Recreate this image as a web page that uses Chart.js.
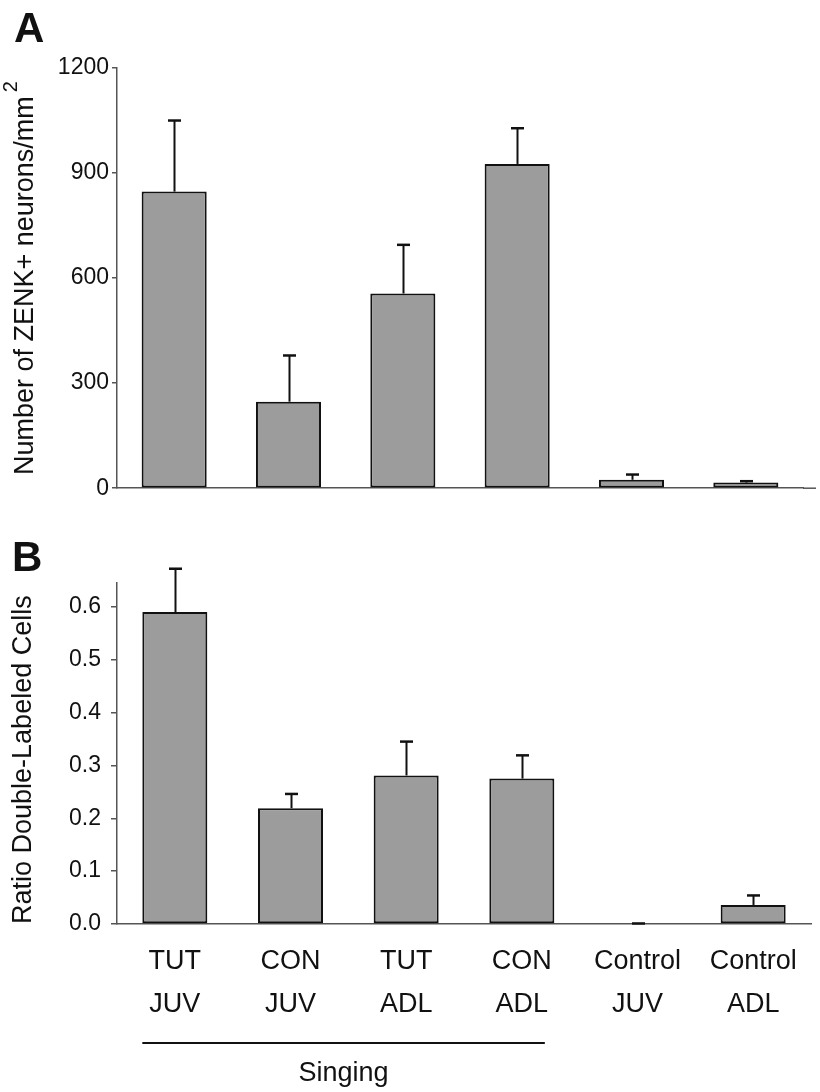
<!DOCTYPE html>
<html><head><meta charset="utf-8">
<script src="https://cdn.jsdelivr.net/npm/chart.js@4.4.1/dist/chart.umd.min.js"></script>
<style>
html,body{margin:0;padding:0;background:#fff;}
#wrap{position:relative;width:820px;height:1092px;overflow:hidden;}
#cA{position:absolute;left:0;top:0;}
#cB{position:absolute;left:0;top:520px;}
.pl{position:absolute;font:bold 42px "Liberation Sans",Arial,sans-serif;line-height:1;color:#111;}
</style></head><body>
<div id="wrap">
<canvas id="cA" width="820" height="505"></canvas>
<canvas id="cB" width="820" height="572"></canvas>
<div class="pl" style="left:14px;top:7px">A</div>
<div class="pl" style="left:12px;top:536px">B</div>
</div>
<script>
const categories = [['TUT','JUV'],['CON','JUV'],['TUT','ADL'],['CON','ADL'],['Control','JUV'],['Control','ADL']];
const zenkMeans = [847, 247, 556, 926, 24, 16];
const zenkSEM   = [203, 132, 139, 102, 15, 4];
const zenkTicks = [0, 300, 600, 900, 1200];
const ratioMeans = [0.59, 0.219, 0.281, 0.275, 0, 0.036];
const ratioSEM   = [0.082, 0.027, 0.064, 0.044, 0.001, 0.018];
const ratioTicks = [0, 0.1, 0.2, 0.3, 0.4, 0.5, 0.6];
const groupLabel = 'Singing';
const titleA = 'Number of ZENK+ neurons/mm';
const titleB = 'Ratio Double-Labeled Cells';

const FONT = '"Liberation Sans", Arial, Helvetica, sans-serif';
const AXIS = '#555';
const BARFILL = '#9c9c9c';
const INK = '#111';

function errorBars(errs){
  return {
    id:'errbars',
    afterDatasetsDraw(chart){
      const meta = chart.getDatasetMeta(0), y = chart.scales.y, ctx = chart.ctx;
      const vals = chart.data.datasets[0].data;
      ctx.save();
      ctx.strokeStyle = INK;
      meta.data.forEach((bar,i)=>{
        const top = y.getPixelForValue(vals[i] + errs[i]);
        const x = Math.round(bar.x) + 0.5;
        ctx.lineWidth = 2;
        ctx.beginPath(); ctx.moveTo(x, bar.y); ctx.lineTo(x, top); ctx.stroke();
        ctx.lineWidth = 2.5;
        ctx.beginPath(); ctx.moveTo(x-6.5, top); ctx.lineTo(x+6.5, top); ctx.stroke();
      });
      ctx.restore();
    }
  };
}

const superscript = {
  id:'sup2',
  afterDraw(chart){
    const s = chart.scales.y, ctx = chart.ctx;
    const f = 27, lh = f*1.2, pad = 9;
    const cx = s.left + pad + lh/2;
    const cy = (s.top + s.bottom)/2;
    ctx.save();
    ctx.font = f + 'px ' + FONT;
    const full = ctx.measureText(titleA + '  ').width;
    const main = ctx.measureText(titleA).width;
    ctx.translate(cx, cy);
    ctx.rotate(-Math.PI/2);
    ctx.font = '20px ' + FONT;
    ctx.fillStyle = INK;
    ctx.textAlign = 'left';
    ctx.textBaseline = 'alphabetic';
    ctx.fillText('2', -full/2 + main + 4, -8);
    ctx.restore();
  }
};

const extendBase = {
  id:'extbase',
  afterDraw(chart){
    const a = chart.chartArea, ctx = chart.ctx;
    ctx.save(); ctx.strokeStyle = AXIS; ctx.lineWidth = 1.5;
    ctx.beginPath(); ctx.moveTo(a.right, a.bottom); ctx.lineTo(a.right + 13, a.bottom); ctx.stroke();
    ctx.restore();
  }
};

const singing = {
  id:'singing',
  afterDraw(chart){
    const meta = chart.getDatasetMeta(0), ctx = chart.ctx;
    const b0 = meta.data[0], b3 = meta.data[3];
    const x0 = b0.x - b0.width/2, x1 = b3.x + 23;
    const yl = chart.chartArea.bottom + 119;
    ctx.save();
    ctx.strokeStyle = INK; ctx.lineWidth = 2;
    ctx.beginPath(); ctx.moveTo(x0, yl); ctx.lineTo(x1, yl); ctx.stroke();
    ctx.font = '27px ' + FONT; ctx.fillStyle = INK;
    ctx.textAlign = 'center'; ctx.textBaseline = 'middle';
    ctx.fillText(groupLabel, (x0 + x1)/2, yl + 31);
    ctx.restore();
  }
};

const barDataset = (data, pct) => ({
  data, backgroundColor: BARFILL, borderColor: INK, borderWidth: 2,
  borderSkipped: false, barPercentage: pct, categoryPercentage: 1
});

new Chart(document.getElementById('cA'), {
  type:'bar',
  data:{ labels: categories, datasets:[barDataset(zenkMeans, 0.569)] },
  options:{
    responsive:false, animation:false, devicePixelRatio:1,
    layout:{ padding:{ top:68, right:17, bottom:16, left:0 } },
    plugins:{ legend:{display:false}, tooltip:{enabled:false} },
    scales:{
      x:{ ticks:{display:false}, grid:{display:false, drawTicks:false},
          border:{color:AXIS, width:1.5}, afterFit(s){ s.height = 0; } },
      y:{ min:0, max:1200,
          afterBuildTicks(s){ s.ticks = zenkTicks.map(v=>({value:v})); },
          ticks:{ font:{family:FONT, size:23}, color:INK, padding:3, callback:v=>String(v) },
          grid:{ drawOnChartArea:false, drawTicks:true, tickLength:5, color:AXIS, lineWidth:1.5 },
          border:{ color:AXIS, width:1.5 },
          title:{ display:true, text: titleA + '  ', font:{family:FONT, size:27}, color:INK, padding:{top:9, bottom:0} },
          afterFit(s){ s.width = 117; } }
    }
  },
  plugins:[errorBars(zenkSEM), superscript, extendBase]
});

new Chart(document.getElementById('cB'), {
  type:'bar',
  data:{ labels: categories, datasets:[barDataset(ratioMeans, 0.562)] },
  options:{
    responsive:false, animation:false, devicePixelRatio:1,
    layout:{ padding:{ top:63, right:9, bottom:0, left:0 } },
    plugins:{ legend:{display:false}, tooltip:{enabled:false} },
    scales:{
      x:{ ticks:{ font:{family:FONT, size:27, lineHeight:1.6}, color:INK, padding:16, maxRotation:0, autoSkip:false },
          grid:{display:false, drawTicks:false},
          border:{color:AXIS, width:1.5}, afterFit(s){ s.height = 168; } },
      y:{ min:0, max:0.645,
          afterBuildTicks(s){ s.ticks = ratioTicks.map(v=>({value:v})); },
          ticks:{ font:{family:FONT, size:23}, color:INK, padding:10, callback:v=>Number(v).toFixed(1) },
          grid:{ drawOnChartArea:false, drawTicks:true, tickLength:6, color:AXIS, lineWidth:1.5 },
          border:{ color:AXIS, width:1.5 },
          title:{ display:true, text: titleB, align:'start', font:{family:FONT, size:27}, color:INK, padding:{top:7, bottom:0} },
          afterFit(s){ s.width = 117; } }
    }
  },
  plugins:[errorBars(ratioSEM), singing]
});
</script>
</body></html>
